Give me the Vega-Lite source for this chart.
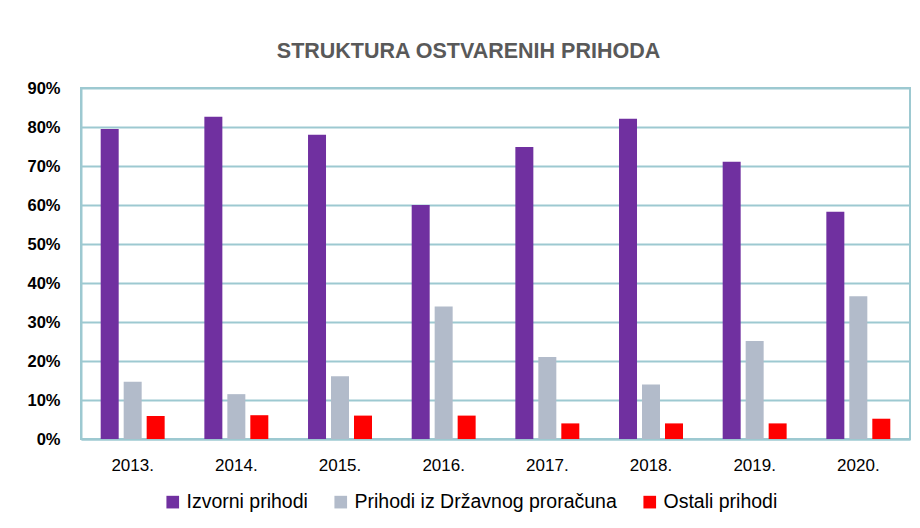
{
  "$schema": "https://vega.github.io/schema/vega-lite/v6.json",
  "width": 829,
  "height": 351,
  "padding": {"left": 26, "top": 40, "right": 12, "bottom": 5},
  "background": "white",
  "title": {
    "text": "STRUKTURA OSTVARENIH PRIHODA",
    "font": "Liberation Sans",
    "fontSize": 21.5,
    "fontWeight": "bold",
    "color": "#595959",
    "anchor": "middle",
    "frame": "bounds",
    "offset": 18
  },
  "data": {
    "values": [
      {"year": "2013.", "cat": "Izvorni prihodi", "v": 0.795},
      {"year": "2013.", "cat": "Prihodi iz Državnog proračuna", "v": 0.147},
      {"year": "2013.", "cat": "Ostali prihodi", "v": 0.059},
      {"year": "2014.", "cat": "Izvorni prihodi", "v": 0.826},
      {"year": "2014.", "cat": "Prihodi iz Državnog proračuna", "v": 0.115},
      {"year": "2014.", "cat": "Ostali prihodi", "v": 0.061},
      {"year": "2015.", "cat": "Izvorni prihodi", "v": 0.78},
      {"year": "2015.", "cat": "Prihodi iz Državnog proračuna", "v": 0.161},
      {"year": "2015.", "cat": "Ostali prihodi", "v": 0.06},
      {"year": "2016.", "cat": "Izvorni prihodi", "v": 0.60},
      {"year": "2016.", "cat": "Prihodi iz Državnog proračuna", "v": 0.34},
      {"year": "2016.", "cat": "Ostali prihodi", "v": 0.06},
      {"year": "2017.", "cat": "Izvorni prihodi", "v": 0.749},
      {"year": "2017.", "cat": "Prihodi iz Državnog proračuna", "v": 0.21},
      {"year": "2017.", "cat": "Ostali prihodi", "v": 0.04},
      {"year": "2018.", "cat": "Izvorni prihodi", "v": 0.821},
      {"year": "2018.", "cat": "Prihodi iz Državnog proračuna", "v": 0.14},
      {"year": "2018.", "cat": "Ostali prihodi", "v": 0.04},
      {"year": "2019.", "cat": "Izvorni prihodi", "v": 0.711},
      {"year": "2019.", "cat": "Prihodi iz Državnog proračuna", "v": 0.251},
      {"year": "2019.", "cat": "Ostali prihodi", "v": 0.04},
      {"year": "2020.", "cat": "Izvorni prihodi", "v": 0.583},
      {"year": "2020.", "cat": "Prihodi iz Državnog proračuna", "v": 0.366},
      {"year": "2020.", "cat": "Ostali prihodi", "v": 0.052}
    ]
  },
  "mark": {"type": "bar"},
  "encoding": {
    "x": {
      "field": "year",
      "type": "nominal",
      "scale": {"paddingInner": 0.383, "paddingOuter": 0.19},
      "axis": {
        "title": null,
        "labelAngle": 0,
        "ticks": false,
        "labelPadding": 18,
        "labelFont": "Liberation Sans",
        "labelFontSize": 17,
        "labelColor": "#000000",
        "domainColor": "#9DC9D1",
        "domainWidth": 2
      }
    },
    "xOffset": {
      "field": "cat",
      "type": "nominal",
      "sort": ["Izvorni prihodi", "Prihodi iz Državnog proračuna", "Ostali prihodi"],
      "scale": {"paddingInner": 0.217, "paddingOuter": 0}
    },
    "y": {
      "field": "v",
      "type": "quantitative",
      "scale": {"domain": [0, 0.9], "nice": false},
      "axis": {
        "title": null,
        "format": ".0%",
        "values": [0, 0.1, 0.2, 0.3, 0.4, 0.5, 0.6, 0.7, 0.8, 0.9],
        "ticks": false,
        "labelPadding": 21,
        "labelFont": "Liberation Sans",
        "labelFontSize": 16.5,
        "labelFontWeight": "bold",
        "labelColor": "#000000",
        "gridColor": "#9DC9D1",
        "gridWidth": 2,
        "gridOpacity": 1,
        "domainColor": "#9DC9D1",
        "domainWidth": 2
      }
    },
    "color": {
      "field": "cat",
      "type": "nominal",
      "scale": {
        "domain": ["Izvorni prihodi", "Prihodi iz Državnog proračuna", "Ostali prihodi"],
        "range": ["#7030A0", "#B2BBCA", "#FF0000"]
      },
      "legend": {
        "title": null,
        "orient": "none",
        "legendX": 82,
        "legendY": 404,
        "padding": 0,
        "direction": "horizontal",
        "symbolType": "square",
        "symbolSize": 160,
        "symbolStrokeWidth": 0,
        "symbolOpacity": 1,
        "labelFont": "Liberation Sans",
        "labelFontSize": 19.5,
        "labelColor": "#000000",
        "labelLimit": 400,
        "labelOffset": 4,
        "columnPadding": 23
      }
    }
  },
  "config": {
    "view": {"stroke": "#9DC9D1", "strokeWidth": 2}
  }
}
